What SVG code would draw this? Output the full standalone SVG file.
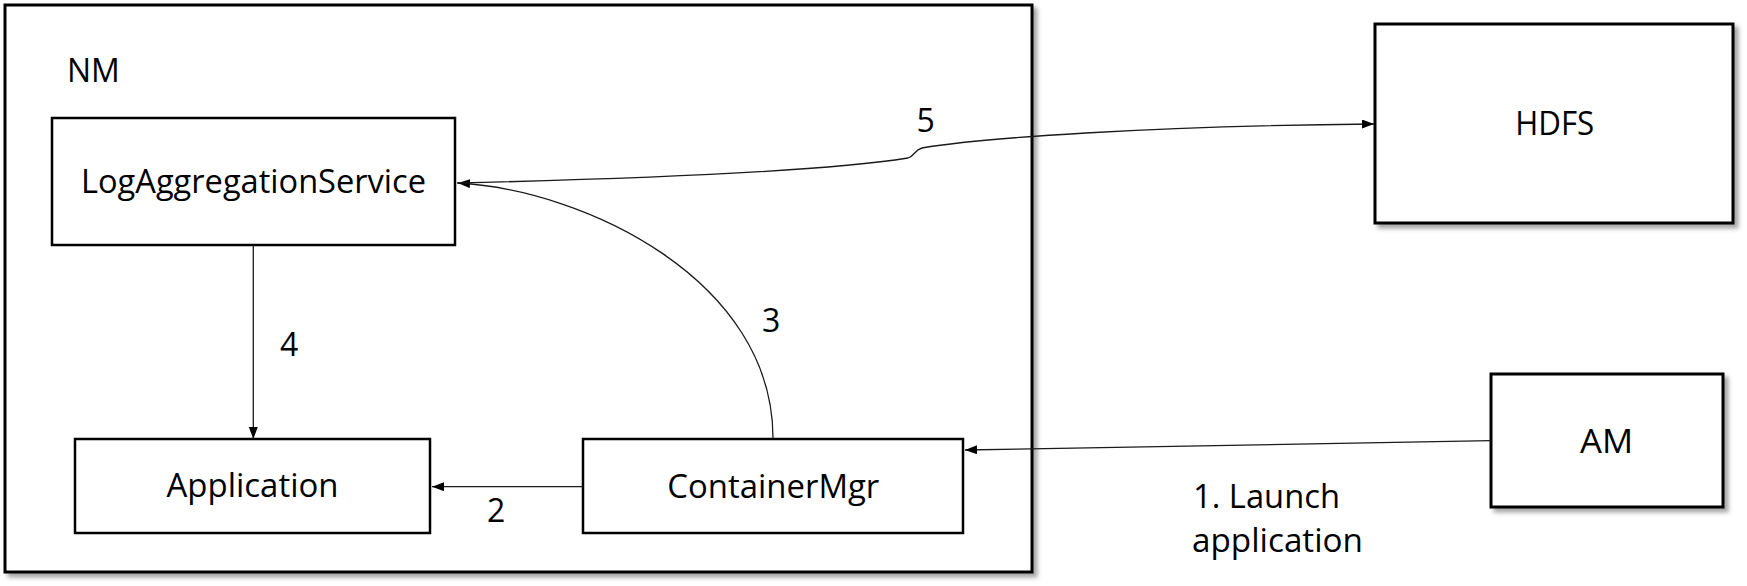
<svg xmlns="http://www.w3.org/2000/svg" width="1747" height="586" viewBox="0 0 1747 586">
<style>
  .box{fill:#fff;stroke:#000;stroke-width:2.5}
  .outer{fill:#fff;stroke:#000;stroke-width:3}
  .lbl{font-family:"Open Sans","Liberation Sans",sans-serif;font-size:32px;fill:#000}
  .mid{text-anchor:middle}
  .conn{fill:none;stroke:#1a1a1a;stroke-width:1.3}
</style>
<defs>
  <filter id="shadow" x="-5%" y="-5%" width="115%" height="115%">
    <feDropShadow dx="4" dy="4" stdDeviation="2.2" flood-color="#000" flood-opacity="0.35"/>
  </filter>
  <marker id="arrow" markerUnits="userSpaceOnUse" markerWidth="13" markerHeight="10" refX="12" refY="4.5" orient="auto">
    <path d="M0,0 L12,4.5 L0,9 z" fill="#000"/>
  </marker>
</defs>
<rect width="1747" height="586" fill="#fff"/>

<g id="nm">
  <rect class="outer" x="5" y="5" width="1027" height="567" filter="url(#shadow)"/>
  <text class="lbl" x="67" y="82">NM</text>
</g>

<g id="logaggregationservice">
  <rect class="box" x="52" y="118" width="403" height="127"/>
  <text class="lbl mid" x="253.5" y="193" textLength="345" lengthAdjust="spacingAndGlyphs">LogAggregationService</text>
</g>

<g id="application">
  <rect class="box" x="75" y="439" width="355" height="94"/>
  <text class="lbl mid" x="252.5" y="497" textLength="172" lengthAdjust="spacingAndGlyphs">Application</text>
</g>

<g id="containermgr">
  <rect class="box" x="583" y="439" width="380" height="94"/>
  <text class="lbl mid" x="773.3" y="497.5" textLength="212" lengthAdjust="spacingAndGlyphs">ContainerMgr</text>
</g>

<g id="hdfs">
  <rect class="outer" x="1375" y="24" width="358" height="199" filter="url(#shadow)"/>
  <text class="lbl mid" x="1554.7" y="135" textLength="79" lengthAdjust="spacingAndGlyphs">HDFS</text>
</g>

<g id="am">
  <rect class="outer" x="1491" y="374" width="232" height="133" filter="url(#shadow)"/>
  <text class="lbl mid" x="1606.5" y="452.7" textLength="53" lengthAdjust="spacingAndGlyphs">AM</text>
</g>

<g id="connectors">
  <path class="conn" d="M1491,440.7 L965,450" marker-end="url(#arrow)"/>
  <path class="conn" d="M583,486.7 L432,486.7" marker-end="url(#arrow)"/>
  <path class="conn" d="M773,438 C773,280 585,190 458,183" marker-end="url(#arrow)"/>
  <path class="conn" d="M253.3,245 L253.3,439" marker-end="url(#arrow)"/>
  <path class="conn" d="M457,183 Q800,175 908,158 C915,156 914,150 922,148 C980,138 1150,126 1374,124" marker-end="url(#arrow)"/>
</g>

<g id="labels">
  <text class="lbl" x="1193" y="508.3" textLength="147" lengthAdjust="spacingAndGlyphs">1. Launch</text>
  <text class="lbl" x="1192" y="551.7" textLength="171" lengthAdjust="spacingAndGlyphs">application</text>
  <text class="lbl" x="487" y="521.7">2</text>
  <text class="lbl" x="762" y="331.7">3</text>
  <text class="lbl" x="280" y="356">4</text>
  <text class="lbl" x="916.5" y="131.7">5</text>
</g>
</svg>
